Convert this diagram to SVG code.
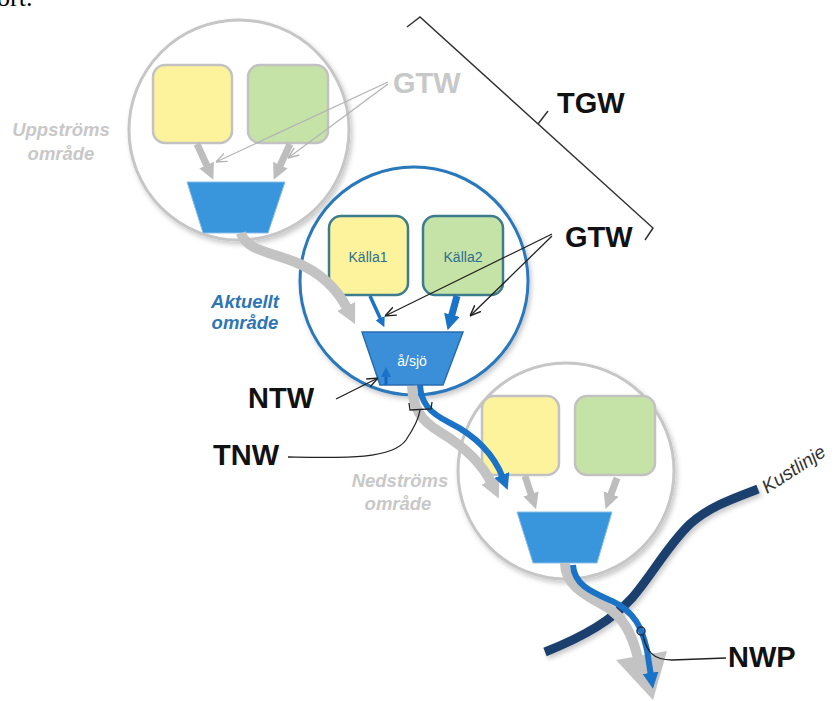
<svg xmlns="http://www.w3.org/2000/svg" width="836" height="701" viewBox="0 0 836 701">
<style>
text{font-family:"Liberation Sans",Arial,sans-serif}
.lbl{font-size:29px;font-weight:bold;fill:#111}
.area{font-size:18.5px;font-weight:bold;font-style:italic;text-anchor:middle}
.grayarea{fill:#c8c8c8}
.circ{fill:#fff;stroke:#c6c6c6;stroke-width:3}
.ybox{fill:#fdf39c;stroke:#c2c2c2;stroke-width:2.5}
.gbox{fill:#c6e3a7;stroke:#c2c2c2;stroke-width:2.5}
.ybox2{fill:#fdf39c;stroke:#3d7c8c;stroke-width:2.5}
.gbox2{fill:#c6e3a7;stroke:#3d7c8c;stroke-width:2.5}
.trap{fill:#3a96dc;stroke:#8cbde8;stroke-width:1}
.ktxt{font-size:14px;fill:#2e6e8e;text-anchor:middle}
.gs{fill:none;stroke:#c3c3c3;stroke-width:10}
.gsa{fill:none;stroke:#bdbdbd;stroke-width:7}
.bs{fill:none;stroke:#1a73c6;stroke-width:6}
.thinG{fill:none;stroke:#b4b4b4;stroke-width:1.3}
.thinK{fill:none;stroke:#222;stroke-width:1.3}
</style>
<defs>
<filter id="sh" x="-20%" y="-20%" width="140%" height="140%"><feDropShadow dx="2" dy="3" stdDeviation="2.5" flood-color="#000" flood-opacity="0.22"/></filter>
<marker id="gh" viewBox="0 0 10 10" markerUnits="userSpaceOnUse" markerWidth="20" markerHeight="20" refX="2" refY="5" orient="auto"><path d="M0,0 L10,5 L0,10 z" fill="#c3c3c3"/></marker>
<marker id="gha" viewBox="0 0 10 10" markerUnits="userSpaceOnUse" markerWidth="16" markerHeight="16" refX="2" refY="5" orient="auto"><path d="M0,0 L10,5 L0,10 z" fill="#bdbdbd"/></marker>
<marker id="bh" viewBox="0 0 10 10" markerUnits="userSpaceOnUse" markerWidth="16" markerHeight="16" refX="2" refY="5" orient="auto"><path d="M0,0 L10,5 L0,10 z" fill="#1a73c6"/></marker>
<marker id="bhs" viewBox="0 0 10 10" markerUnits="userSpaceOnUse" markerWidth="10" markerHeight="10" refX="2" refY="5" orient="auto"><path d="M0,0 L10,5 L0,10 z" fill="#1a73c6"/></marker>
<marker id="tg" viewBox="0 0 10 10" markerUnits="userSpaceOnUse" markerWidth="11" markerHeight="11" refX="10" refY="5" orient="auto"><path d="M0,1 L10,5 L0,9" fill="none" stroke="#b4b4b4" stroke-width="1.3"/></marker>
<marker id="tk" viewBox="0 0 10 10" markerUnits="userSpaceOnUse" markerWidth="11" markerHeight="11" refX="10" refY="5" orient="auto"><path d="M0,1 L10,5 L0,9" fill="none" stroke="#222" stroke-width="1.3"/></marker>
</defs>
<rect width="836" height="701" fill="#fff"/>
<text x="-3" y="6" style="font-family:'Liberation Serif',serif;font-size:26px;fill:#000">ort.</text>

<g id="upstream">
<circle class="circ" cx="239" cy="130" r="110" filter="url(#sh)"/>
<rect class="ybox" x="153" y="65" width="79" height="78" rx="12"/>
<rect class="gbox" x="248" y="65" width="80" height="78" rx="12"/>
<polygon class="trap" points="187,182 285,182 268,233 203,233"/>
<line class="gsa" x1="197" y1="144" x2="208" y2="168" marker-end="url(#gha)"/>
<line class="gsa" x1="290" y1="144" x2="279" y2="168" marker-end="url(#gha)"/>
<text class="area grayarea" x="61" y="136">Uppströms</text>
<text class="area grayarea" x="61" y="160">område</text>
</g>

<g id="current">
<circle cx="414" cy="281" r="114" fill="#fff" stroke="#2a78bc" stroke-width="3" filter="url(#sh)"/>
<rect class="ybox2" x="329" y="216" width="79" height="79" rx="12"/>
<rect class="gbox2" x="423" y="216" width="80" height="79" rx="12"/>
<text class="ktxt" x="368" y="262">Källa1</text>
<text class="ktxt" x="463" y="262">Källa2</text>
<polygon points="362,332 463,332 443,385 380,385" fill="#3a8fd8" stroke="#2a6cb0" stroke-width="1.5"/>
<text x="412" y="366" style="font-size:14px;fill:#fff;text-anchor:middle">å/sjö</text>
<text class="area" x="245" y="308" fill="#2e75b6">Aktuellt</text>
<text class="area" x="245" y="329" fill="#2e75b6">område</text>
</g>

<g id="downstream">
<circle class="circ" cx="566" cy="471" r="108" filter="url(#sh)"/>
<rect class="ybox" x="482" y="396" width="77" height="79" rx="12"/>
<rect class="gbox" x="575" y="396" width="80" height="79" rx="12"/>
<polygon class="trap" points="517,512 612,512 597,563 533,563"/>
<line class="gsa" x1="525" y1="476" x2="532" y2="497" marker-end="url(#gha)"/>
<line class="gsa" x1="617" y1="478" x2="610" y2="497" marker-end="url(#gha)"/>
<text class="area grayarea" x="400" y="487">Nedströms</text>
<text class="area grayarea" x="398" y="510">område</text>
</g>

<g id="coastline">
<path d="M545,652 C585,636 612,620 632,598 C652,575 668,545 690,524 C710,506 735,498 758,489" fill="none" stroke="#1e3f6e" stroke-width="9" filter="url(#sh)"/>
<text x="767" y="494" transform="rotate(-33 767 494)" style="font-size:19px;font-style:italic;fill:#333">Kustlinje</text>
</g>

<g id="labels">
<text class="lbl" x="393" y="93" style="fill:#c8c8c8">GTW</text>
<text class="lbl" x="557" y="113">TGW</text>
<text class="lbl" x="565" y="247">GTW</text>
<text class="lbl" x="248" y="408">NTW</text>
<text class="lbl" x="213" y="465">TNW</text>
<text class="lbl" x="728" y="667">NWP</text>
</g>

<g id="connectors">
<path class="gs" d="M241,233 C246,250 270,252 295,262 C320,272 338,290 348,310" marker-end="url(#gh)"/>
<path class="gs" d="M412,386 C413,408 420,420 440,432 C465,447 482,463 492,484" marker-end="url(#gh)"/>
<path class="gs" d="M565,563 C565,585 585,595 605,606 C625,618 632,635 638,658"/>
<polygon points="616,660 667,651 653,700" fill="#c3c3c3"/>
<line x1="370" y1="296" x2="381" y2="320" stroke="#1a73c6" stroke-width="3.5" marker-end="url(#bhs)"/>
<line x1="457" y1="296" x2="451" y2="318" stroke="#1a73c6" stroke-width="7" marker-end="url(#bh)"/>
<line x1="386" y1="385" x2="386" y2="375" stroke="#1565c0" stroke-width="3" marker-end="url(#bhs)"/>
<path class="bs" d="M420,385 C421,402 428,412 450,423 C478,437 494,455 503,478" marker-end="url(#bh)"/>
<path class="bs" d="M573,565 C574,585 592,592 612,601 C635,612 642,628 647,650 L651,676" marker-end="url(#bh)"/>
<line class="thinG" x1="388" y1="82" x2="216" y2="162" marker-end="url(#tg)"/>
<line class="thinG" x1="388" y1="84" x2="288" y2="158" marker-end="url(#tg)"/>
<line class="thinK" x1="552" y1="234" x2="385" y2="316" marker-end="url(#tk)"/>
<line class="thinK" x1="552" y1="236" x2="470" y2="316" marker-end="url(#tk)"/>
<line class="thinK" x1="336" y1="399" x2="378" y2="378" marker-end="url(#tk)"/>
<path class="thinK" d="M288,457 C340,458 392,460 406,440 C414,428 419,418 420,410"/>
<path class="thinK" d="M409,403 L410,410 L431,409 L432,402"/>
<circle cx="641" cy="631" r="4" fill="none" stroke="#1d3050" stroke-width="1.5"/>
<path class="thinK" d="M643,635 C646,650 652,660 672,660 L726,658"/>
<path d="M407,27 L420,17 L653,228 L645,240 M538,124 L548,111" fill="none" stroke="#333" stroke-width="1.5"/>
</g>
</svg>
